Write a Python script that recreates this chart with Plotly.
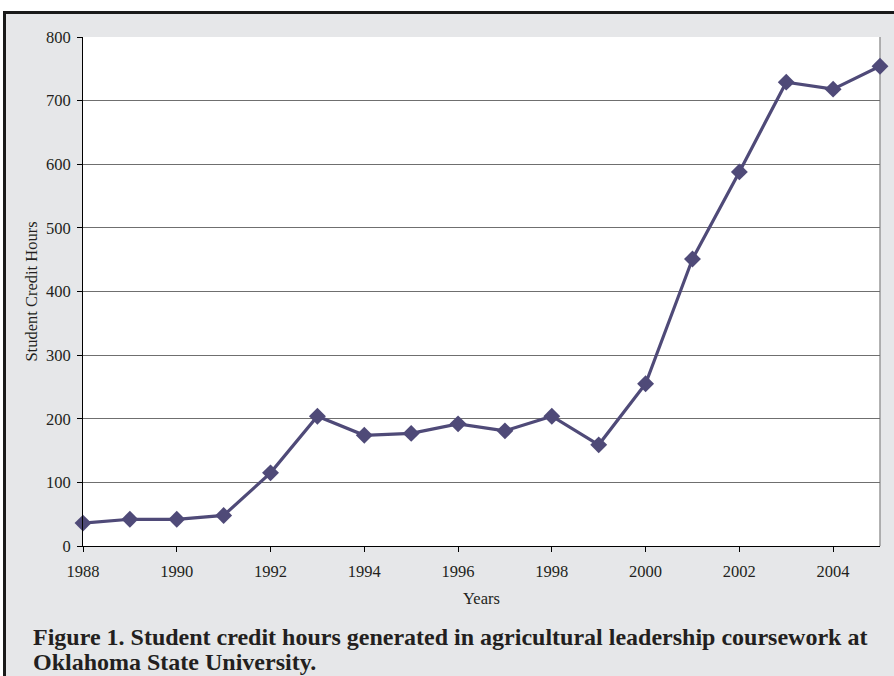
import plotly.graph_objects as go

years = [1988, 1989, 1990, 1991, 1992, 1993, 1994, 1995, 1996, 1997, 1998,
         1999, 2000, 2001, 2002, 2003, 2004, 2005]
credit_hours = [36, 42, 42, 48, 115, 204, 174, 177, 192, 181, 204,
                159, 255, 451, 588, 729, 718, 754]
x_ticks = [1988, 1990, 1992, 1994, 1996, 1998, 2000, 2002, 2004]
y_ticks = [0, 100, 200, 300, 400, 500, 600, 700, 800]
title_line1 = "Figure 1. Student credit hours generated in agricultural leadership coursework at"
title_line2 = "Oklahoma State University."

W, H = 894, 676
L, R, T, B = 83, 14, 37, 130
PW, PH = W - L - R, H - T - B

def px(x):
    return (x - L) / PW

def py(y):
    return (H - B - y) / PH

SERIF = "Liberation Serif"
color = "#4f4a78"

fig = go.Figure()
fig.add_trace(go.Scatter(
    x=years, y=credit_hours, mode="lines+markers",
    line=dict(color=color, width=3.2),
    marker=dict(symbol="diamond", size=13, color=color),
    cliponaxis=False, showlegend=False,
))

shapes = [
    dict(type="rect", xref="paper", yref="paper", x0=px(-10), x1=px(W + 10),
         y0=py(11.5), y1=py(-10), fillcolor="white", line=dict(width=0), layer="above"),
    dict(type="rect", xref="paper", yref="paper", x0=px(-10), x1=px(3),
         y0=py(H + 10), y1=py(-10), fillcolor="white", line=dict(width=0), layer="above"),
    dict(type="line", xref="paper", yref="paper", x0=px(3), x1=px(W + 10),
         y0=py(12.5), y1=py(12.5), line=dict(color="#1a1a1a", width=3), layer="above"),
    dict(type="line", xref="paper", yref="paper", x0=px(4.5), x1=px(4.5),
         y0=py(11), y1=py(H + 10), line=dict(color="#1a1a1a", width=3), layer="above"),
    dict(type="line", xref="paper", yref="paper", x0=1, x1=1, y0=0, y1=1,
         line=dict(color="#999999", width=1.5), layer="below"),
]

annotations = [
    dict(text=title_line1, xref="paper", yref="paper",
         x=px(31), y=py(652), xanchor="left", yanchor="bottom", showarrow=False,
         font=dict(family=SERIF, size=24, color="#231f20", weight="bold")),
    dict(text=title_line2, xref="paper", yref="paper",
         x=px(31), y=py(677), xanchor="left", yanchor="bottom", showarrow=False,
         font=dict(family=SERIF, size=24, color="#231f20", weight="bold")),
]

fig.update_layout(
    width=W, height=H,
    margin=dict(l=L, r=R, t=T, b=B),
    paper_bgcolor="#e6e7e9", plot_bgcolor="white",
    font=dict(family=SERIF, size=16.5, color="#231f20"),
    shapes=shapes, annotations=annotations,
    xaxis=dict(range=[1988, 2005], tickvals=x_ticks, ticks="outside", ticklen=5,
               tickcolor="black", showline=True, linecolor="black", linewidth=1,
               showgrid=False, zeroline=False, ticklabelstandoff=5,
               title=dict(text="Years", font=dict(size=16.5), standoff=12),
               tickfont=dict(size=16.5)),
    yaxis=dict(range=[0, 800], tickvals=y_ticks, ticks="outside", ticklen=5,
               tickcolor="black", showline=True, linecolor="black", linewidth=1,
               showgrid=True, gridcolor="#6f6f6f", gridwidth=1, zeroline=False,
               ticklabelstandoff=3,
               title=dict(text="Student Credit Hours", font=dict(size=16.5), standoff=4),
               tickfont=dict(size=16.5)),
)

fig.write_html("out.html")
